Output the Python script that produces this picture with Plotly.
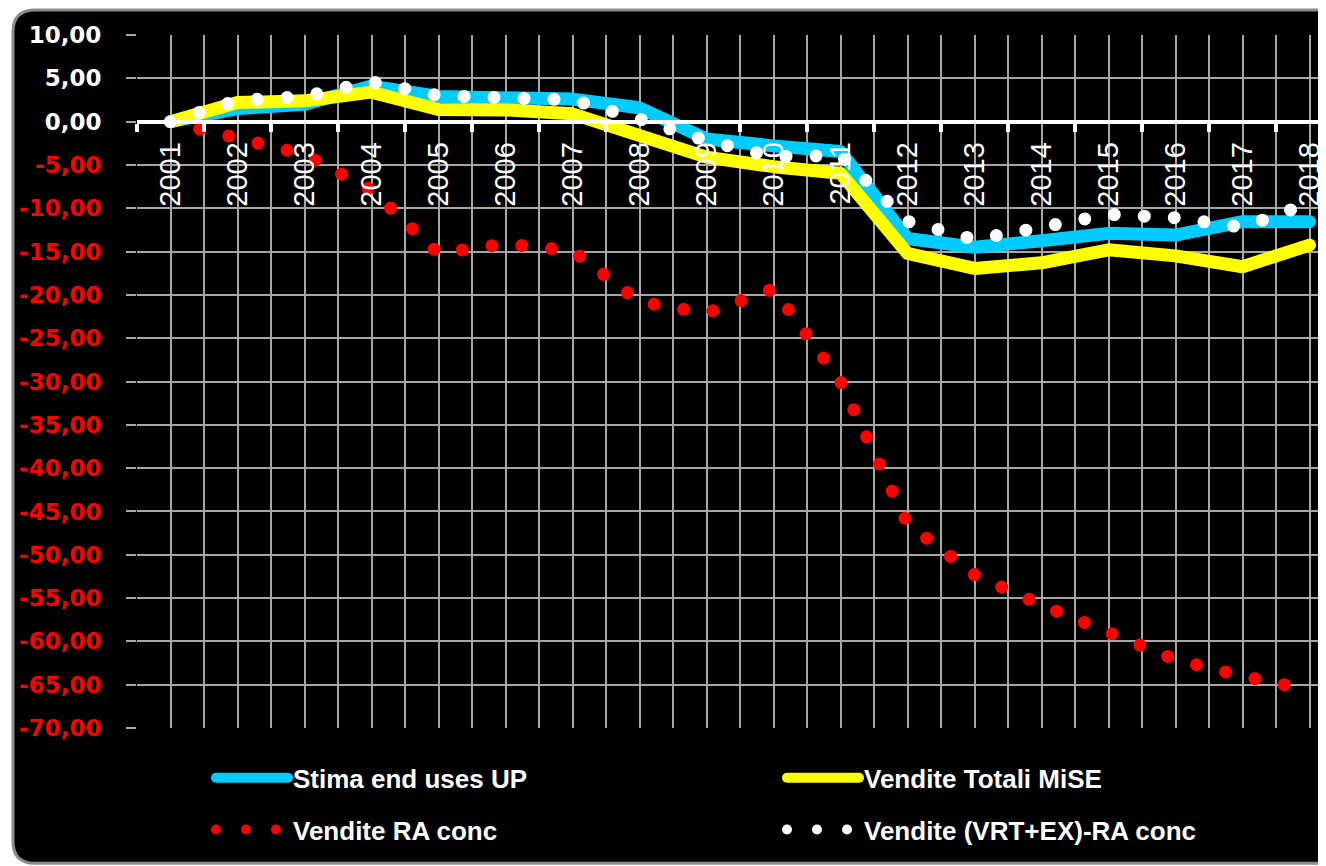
import plotly.graph_objects as go

# yearly values
years = list(range(2001, 2019))
stima_end_uses = [0, 1.5, 2.0, 4.1, 2.9, 2.9, 2.6, 1.6, -2.0, -2.8, -3.45,
                  -13.5, -14.5, -13.75, -12.9, -13.1, -11.55, -11.55]
vendite_totali = [0, 2.2, 2.4, 3.4, 1.4, 1.35, 0.9, -1.55, -4.1, -5.2, -5.95,
                  -15.2, -16.95, -16.3, -14.8, -15.5, -16.75, -14.25]
vendite_ra = [0, -1.9, -3.8, -7.9, -15.2, -14.1, -14.9, -20.8, -22.1, -19.3, -30.0,
              -46.4, -52.3, -55.8, -59.1, -62.1, -64.0, -65.6]
vendite_vrt_ex = [0, 2.45, 2.9, 4.6, 3.0, 2.9, 2.5, 0.3, -2.2, -4.05, -3.9,
                  -11.5, -13.6, -12.2, -10.7, -11.1, -12.2, -9.4]

y_ticks = list(range(-70, 11, 5))

# the page body has an 8px margin, so the figure is drawn 8px in from the corner
OFF = 8
W, H = 1326 - OFF, 866 - OFF
ML, MT = 137 - OFF, 35 - OFF
PH = 727.7 - 35
MB = H - MT - PH
PW = W - ML
YMIN, YMAX = -70, 10
XMIN = 2000.5
XMAX = XMIN + PW / 67.0  # plot runs past the right edge of the picture


def y_label(v):
    s = f"{v:.2f}".replace(".", ",")
    if v < 0:
        return f"<span style='color:#FF0000'>{s}</span>"
    return s


# page pixels -> paper units
def px_x(px):
    return (px - OFF - ML) / PW


def px_y(py):
    return (MT + PH - (py - OFF)) / PH


def rounded_box(x0, y0, x1, y1, r):
    pts = [
        ("M", x0 + r, y0), ("L", x1 - r, y0), ("Q", x1, y0, x1, y0 + r),
        ("L", x1, y1 - r), ("Q", x1, y1, x1 - r, y1), ("L", x0 + r, y1),
        ("Q", x0, y1, x0, y1 - r), ("L", x0, y0 + r), ("Q", x0, y0, x0 + r, y0),
    ]
    out = []
    for p in pts:
        nums = p[1:]
        conv = []
        for i in range(0, len(nums), 2):
            conv.append(f"{px_x(nums[i]):.5f},{px_y(nums[i + 1]):.5f}")
        out.append(p[0] + " ".join(conv))
    return " ".join(out) + " Z"


fig = go.Figure()

fig.add_trace(go.Scatter(x=years, y=stima_end_uses, mode="lines", name="Stima end uses UP",
                         line=dict(color="#00CCFF", width=13), legend="legend",
                         legendgroup="a"))
fig.add_trace(go.Scatter(x=years, y=vendite_totali, mode="lines", name="Vendite Totali MiSE",
                         line=dict(color="#FFFF00", width=13), legend="legend2",
                         legendgroup="b"))
fig.add_trace(go.Scatter(x=years, y=vendite_ra, mode="lines", name="Vendite RA conc",
                         line=dict(color="#FF0000", width=13, dash="0px,30px"),
                         legend="legend", legendgroup="c"))
fig.add_trace(go.Scatter(x=years, y=vendite_vrt_ex, mode="lines",
                         name="Vendite (VRT+EX)-RA conc",
                         line=dict(color="#FFFFFF", width=13, dash="0px,30px"),
                         legend="legend2", legendgroup="d"))

zero_pos = (0 - YMIN) / (YMAX - YMIN)
grid = "#A6A6A6"
half_years = [XMIN + 0.5 * i for i in range(int((XMAX - XMIN) / 0.5) + 1)]
half_text = [str(int(v)) if v == int(v) else "" for v in half_years]
legend_font = dict(family="Liberation Sans", size=26, color="white", weight="bold")

fig.update_layout(
    width=W, height=H,
    margin=dict(l=ML, r=0, t=MT, b=MB, autoexpand=False),
    paper_bgcolor="white",
    plot_bgcolor="rgba(0,0,0,0)",
    showlegend=True,
    xaxis=dict(range=[XMIN, XMAX], anchor="free", position=zero_pos,
               tickmode="array", tickvals=half_years, ticktext=half_text,
               tickangle=-90, ticks="", ticklabelstandoff=7,
               tickfont=dict(family="Liberation Sans", size=29, color="white"),
               showgrid=True, gridcolor=grid, gridwidth=1.5, zeroline=False,
               showline=True, linecolor="white", linewidth=4,
               minor=dict(tickmode="array", tickvals=[y - 0.5 for y in years] + [2018.5],
                          ticks="outside", ticklen=8, tickwidth=4, tickcolor="white",
                          showgrid=False)),
    yaxis=dict(range=[YMIN, YMAX], tickmode="array", tickvals=y_ticks,
               ticktext=[y_label(v) for v in y_ticks], showgrid=True,
               gridcolor=grid, gridwidth=1.5, zeroline=False, showline=False,
               ticks="outside", ticklen=10, tickcolor=grid, tickwidth=1.5,
               ticklabelstandoff=20,
               tickfont=dict(family="DejaVu Sans", size=23, color="white",
                             weight="bold")),
    legend=dict(x=px_x(211), y=px_y(754), xanchor="left", yanchor="top",
                bgcolor="rgba(0,0,0,0)", font=legend_font, itemwidth=72,
                tracegroupgap=15),
    legend2=dict(x=px_x(782), y=px_y(754), xanchor="left", yanchor="top",
                 bgcolor="rgba(0,0,0,0)", font=legend_font, itemwidth=72,
                 tracegroupgap=15),
    shapes=[dict(type="path", xref="paper", yref="paper", layer="below",
                 path=rounded_box(13, 10, 1345, 863, 22),
                 fillcolor="black", line=dict(color="#8C8C8C", width=3))],
)

round_caps = ("var s=document.createElement('style');"
              "s.textContent='.js-line{stroke-linecap:round !important;"
              "stroke-linejoin:round !important}';"
              "document.head.appendChild(s);")

fig.write_html("out.html", post_script=round_caps)
